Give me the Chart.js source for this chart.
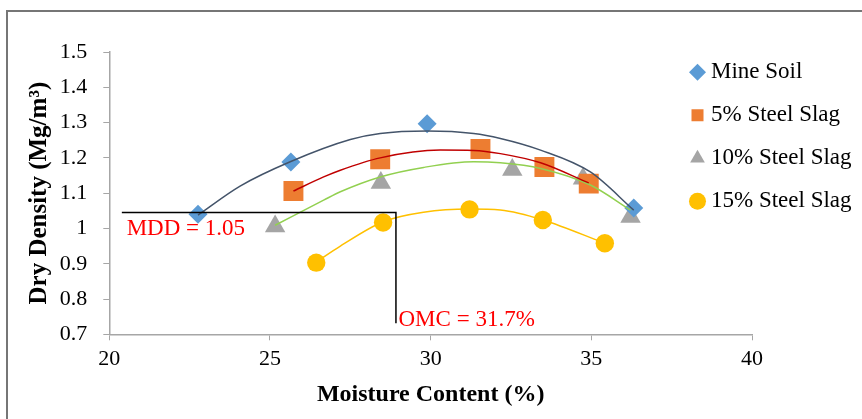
<!DOCTYPE html>
<html>
<head>
<meta charset="utf-8">
<script src="https://cdn.jsdelivr.net/npm/chart.js@4.4.1/dist/chart.umd.min.js"></script>
<style>
  html, body { margin: 0; padding: 0; background: #fff; overflow: hidden; }
  #marco { position: absolute; left: 6px; top: 10px; width: 1000px; height: 1000px;
           border-left: 2px solid #767676; border-top: 2px solid #767676; }
  #grafico { position: absolute; left: 0; top: 0; }
</style>
</head>
<body>
<div id="marco"></div>
<canvas id="grafico" width="862" height="419"></canvas>
<script>
// series names
const series = ["Mine Soil", "5% Steel Slag", "10% Steel Slag", "15% Steel Slag"];

// measured points (moisture %, dry density Mg/m3)
const mineX = [22.76, 25.65, 29.89, 36.32];
const mineY = [1.040, 1.188, 1.297, 1.058];
const slag5X = [25.73, 28.43, 31.55, 33.54, 34.92];
const slag5Y = [1.106, 1.196, 1.225, 1.174, 1.127];
const slag10X = [25.16, 28.45, 32.54, 34.74, 36.22];
const slag10Y = [1.006, 1.129, 1.166, 1.141, 1.033];
const slag15X = [26.44, 28.52, 31.21, 33.49, 35.42];
const slag15Y = [0.903, 1.017, 1.054, 1.024, 0.958];

// trendlines
const mineTrendX = [22.76, 24.07, 25.63, 27.5, 28.43, 29.89, 31.34, 32.17, 33.42, 34.97, 36.32];
const mineTrendY = [1.038, 1.120, 1.189, 1.252, 1.269, 1.276, 1.269, 1.255, 1.222, 1.160, 1.052];
const slag5TrendX = [25.73, 26.67, 27.19, 28.43, 30.30, 31.34, 32.17, 33.42, 34.92];
const slag5TrendY = [1.106, 1.146, 1.165, 1.200, 1.222, 1.221, 1.212, 1.186, 1.129];
const slag10TrendX = [25.16, 26.67, 27.19, 28.43, 29.78, 31.34, 32.17, 33.42, 34.97, 36.22];
const slag10TrendY = [1.009, 1.080, 1.104, 1.146, 1.173, 1.189, 1.186, 1.170, 1.123, 1.052];
const slag15TrendX = [26.44, 27.19, 28.52, 29.78, 31.21, 32.17, 33.49, 35.42];
const slag15TrendY = [0.905, 0.950, 1.019, 1.046, 1.055, 1.052, 1.024, 0.958];

// MDD / OMC guide line
const guiaX = [20.39, 28.92, 28.92];
const guiaY = [1.045, 1.045, 0.731];
const mddTexto = "MDD = 1.05";
const omcTexto = "OMC = 31.7%";

const serif = "'Liberation Serif', 'Times New Roman', serif";

function puntos(xs, ys) {
  return xs.map((x, i) => ({ x: x, y: ys[i] }));
}

function marcadores(label, xs, ys, estilo, radio, color) {
  return {
    label: label,
    data: puntos(xs, ys),
    showLine: false,
    pointStyle: estilo,
    pointRadius: radio,
    pointBackgroundColor: color,
    backgroundColor: color,
    borderColor: color,
    pointBorderWidth: 0,
    borderWidth: 0,
    order: 2,
  };
}

function tendencia(xs, ys, color) {
  return {
    label: "trend",
    data: puntos(xs, ys),
    showLine: true,
    pointRadius: 0,
    borderColor: color,
    borderWidth: 1.5,
    cubicInterpolationMode: "monotone",
    fill: false,
    order: 1,
  };
}

const textos = {
  id: "textos",
  afterLayout(chart) {
    // legend sits over the right side of the plot, as in the original
    const lg = chart.legend;
    lg.left = 675.5;
    lg.right = 862;
    lg.top = 40.7;
    lg.bottom = 419;
  },
  afterDatasetsDraw(chart) {
    const ctx = chart.ctx;
    const x = chart.scales.x;
    const y = chart.scales.y;
    ctx.save();
    ctx.font = "23px " + serif;
    ctx.fillStyle = "#FF0000";
    ctx.textAlign = "left";
    ctx.textBaseline = "middle";
    ctx.fillText(mddTexto, x.getPixelForValue(20.54), y.getPixelForValue(0.998));
    ctx.fillText(omcTexto, x.getPixelForValue(29.0), y.getPixelForValue(0.740));
    ctx.restore();
  },
};

const ctx = document.getElementById("grafico").getContext("2d");
new Chart(ctx, {
  type: "scatter",
  data: {
    datasets: [
      marcadores(series[0], mineX, mineY, "rectRot", 9.5, "#5B9BD5"),
      marcadores(series[1], slag5X, slag5Y, "rect", 14.1, "#ED7D31"),
      marcadores(series[2], slag10X, slag10Y, "triangle", 11.8, "#A5A5A5"),
      marcadores(series[3], slag15X, slag15Y, "circle", 9.2, "#FFC000"),
      tendencia(mineTrendX, mineTrendY, "#44546A"),
      tendencia(slag5TrendX, slag5TrendY, "#C00000"),
      tendencia(slag10TrendX, slag10TrendY, "#92D050"),
      tendencia(slag15TrendX, slag15TrendY, "#FFC000"),
      {
        label: "guia",
        data: puntos(guiaX, guiaY),
        showLine: true,
        pointRadius: 0,
        borderColor: "#000000",
        borderWidth: 1.5,
        tension: 0,
        order: 0,
      },
    ],
  },
  options: {
    responsive: false,
    animation: false,
    events: [],
    layout: { padding: { left: 10, top: 52, right: 0, bottom: 0 } },
    plugins: {
      tooltip: { enabled: false },
      legend: {
        position: "right",
        align: "start",
        maxWidth: 110,
        labels: {
          filter: (item) => item.datasetIndex < 4,
          usePointStyle: true,
          boxWidth: 4,
          boxHeight: 12,
          padding: 20,
          color: "#000",
          font: { family: serif, size: 23 },
        },
      },
    },
    scales: {
      x: {
        type: "linear",
        min: 20,
        max: 40,
        ticks: { stepSize: 5, color: "#000", padding: 6, font: { family: serif, size: 22 } },
        grid: { drawOnChartArea: false, tickLength: 6, color: "#A6A6A6" },
        border: { color: "#A6A6A6", width: 1.5 },
        title: {
          display: true,
          text: "Moisture Content (%)",
          color: "#000",
          padding: { top: 0, bottom: 10 },
          font: { family: serif, size: 24, weight: "bold" },
        },
        afterFit: (scale) => { scale.height = 84.7; },
      },
      y: {
        min: 0.7,
        max: 1.5,
        ticks: {
          stepSize: 0.1,
          color: "#000",
          padding: 16,
          font: { family: serif, size: 22 },
          callback: (v) => String(Number(v.toFixed(1))),
        },
        grid: { drawOnChartArea: false, tickLength: 6, color: "#A6A6A6" },
        border: { color: "#A6A6A6", width: 1.5 },
        title: {
          display: true,
          text: "Dry Density (Mg/m³)",
          color: "#000",
          padding: { top: 15, bottom: 0 },
          font: { family: serif, size: 25, weight: "bold" },
        },
        afterFit: (scale) => { scale.width = 99.3; },
      },
    },
  },
  plugins: [textos],
});
</script>
</body>
</html>
